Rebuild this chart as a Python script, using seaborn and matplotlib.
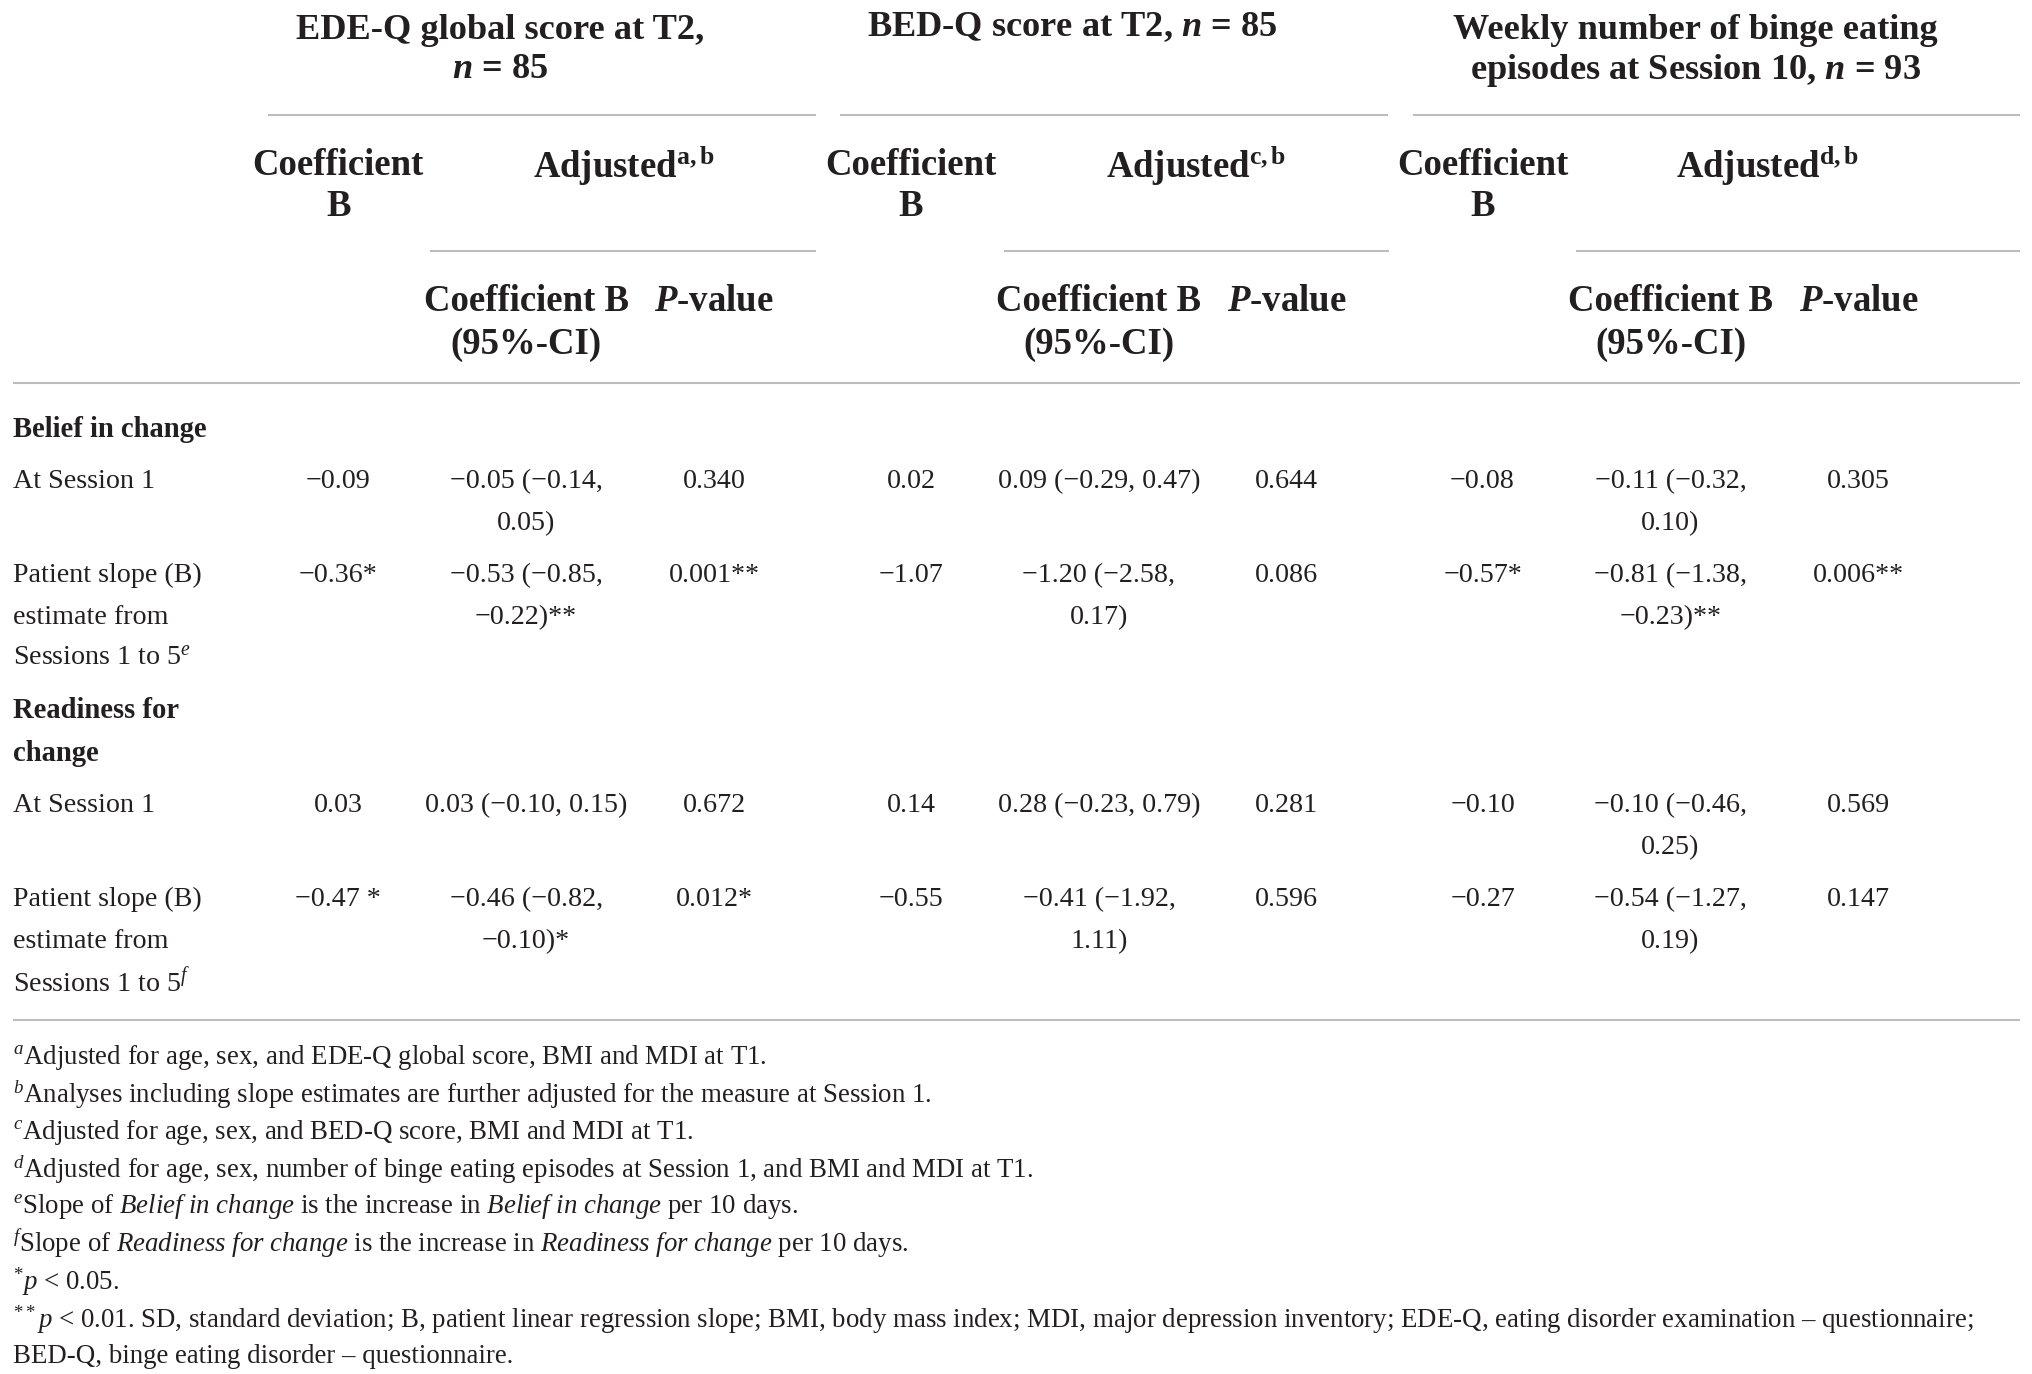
import matplotlib
matplotlib.use("Agg")
import matplotlib.pyplot as plt
import seaborn as sns

# ---------------- data ----------------
outcome_titles = [
    ["EDE-Q global score at T2,", r"$\mathbfit{n}$ = 85"],
    [r"BED-Q score at T2, $\mathbfit{n}$ = 85"],
    ["Weekly number of binge eating", r"episodes at Session 10, $\mathbfit{n}$ = 93"],
]
adjusted_marks = ["a,b", "c,b", "d,b"]

row_labels = [
    ["At Session 1"],
    ["Patient slope (B)", "estimate from", r"Sessions 1 to 5$^{e}$"],
    ["At Session 1"],
    ["Patient slope (B)", "estimate from", r"Sessions 1 to 5$^{f}$"],
]
section_labels = [["Belief in change"], ["Readiness for", "change"]]

coef_b = [
    ["\u22120.09", "\u22120.36*", "0.03", "\u22120.47 *"],
    ["0.02", "\u22121.07", "0.14", "\u22120.55"],
    ["\u22120.08", "\u22120.57*", "\u22120.10", "\u22120.27"],
]
adjusted_ci = [
    [["\u22120.05 (\u22120.14,", "0.05)"], ["\u22120.53 (\u22120.85,", "\u22120.22)**"],
     ["0.03 (\u22120.10, 0.15)"], ["\u22120.46 (\u22120.82,", "\u22120.10)*"]],
    [["0.09 (\u22120.29, 0.47)"], ["\u22121.20 (\u22122.58,", "0.17)"],
     ["0.28 (\u22120.23, 0.79)"], ["\u22120.41 (\u22121.92,", "1.11)"]],
    [["\u22120.11 (\u22120.32,", "0.10)"], ["\u22120.81 (\u22121.38,", "\u22120.23)**"],
     ["\u22120.10 (\u22120.46,", "0.25)"], ["\u22120.54 (\u22121.27,", "0.19)"]],
]
p_values = [
    ["0.340", "0.001**", "0.672", "0.012*"],
    ["0.644", "0.086", "0.281", "0.596"],
    ["0.305", "0.006**", "0.569", "0.147"],
]

footnotes = [
    r"$^{a}$Adjusted for age, sex, and EDE-Q global score, BMI and MDI at T1.",
    r"$^{b}$Analyses including slope estimates are further adjusted for the measure at Session 1.",
    r"$^{c}$Adjusted for age, sex, and BED-Q score, BMI and MDI at T1.",
    r"$^{d}$Adjusted for age, sex, number of binge eating episodes at Session 1, and BMI and MDI at T1.",
    r"$^{e}$Slope of $\mathit{Belief\ in\ change}$ is the increase in $\mathit{Belief\ in\ change}$ per 10 days.",
    r"$^{f}$Slope of $\mathit{Readiness\ for\ change}$ is the increase in $\mathit{Readiness\ for\ change}$ per 10 days.",
    r"$^{*}\mathit{p}$ < 0.05.",
    r"$^{**}\mathit{p}$ < 0.01. SD, standard deviation; B, patient linear regression slope; BMI, body mass index; MDI, major depression inventory; EDE-Q, eating disorder examination "
    + "\u2013 questionnaire;",
    "BED-Q, binge eating disorder \u2013 questionnaire.",
]

# ---------------- style ----------------
sns.set_theme(style="white")
plt.rcParams["font.family"] = ["Liberation Serif", "DejaVu Serif"]
plt.rcParams["mathtext.fontset"] = "custom"
plt.rcParams["mathtext.rm"] = "Liberation Serif"
plt.rcParams["mathtext.it"] = "Liberation Serif:italic"
plt.rcParams["mathtext.bf"] = "Liberation Serif:bold"
try:
    plt.rcParams["mathtext.bfit"] = "Liberation Serif:italic:bold"
except KeyError:
    pass

TXT = "#231f20"
RULE = "#bdbdbd"
FS_HEAD = 26.5
FS_TITLE = 26.2
FS_BODY = 20.2
FS_SECT = 20.6
FS_FOOT = 19.4

fig = plt.figure(figsize=(20.32, 13.74), dpi=100)
ax = fig.add_axes([0, 0, 1, 1])
ax.set_xlim(0, 1568)
ax.set_ylim(1056, 0)
ax.axis("off")


def put(x, y, s, size=FS_BODY, weight="normal", ha="center", style="normal"):
    ax.text(x, y, s, fontsize=size, fontweight=weight, ha=ha, va="center_baseline",
            color=TXT, fontstyle=style)


# layout (positions only)
group_dx = [0, 442, 883]
title_x = [386, 827, 1308]
col_coef, col_ci, col_p = 261, 406, 551
adj_x = 481
tier1 = [(207, 630), (648, 1071), (1090, 1559)]
tier2 = [(332, 630), (775, 1072), (1216, 1559)]

# header titles
for g, lines in enumerate(outcome_titles):
    ys = [20, 50] if len(lines) == 2 else [18]
    for y, s in zip(ys, lines):
        put(title_x[g], y, s, size=FS_TITLE, weight="bold")

for (a, b) in tier1:
    ax.plot([a, b], [88, 88], color=RULE, lw=1.5, solid_capstyle="butt")
for (a, b) in tier2:
    ax.plot([a, b], [193, 193], color=RULE, lw=1.5, solid_capstyle="butt")
ax.plot([10, 1559], [294, 294], color=RULE, lw=1.5, solid_capstyle="butt")
ax.plot([10, 1559], [784, 784], color=RULE, lw=1.5, solid_capstyle="butt")

for g in range(3):
    dx = group_dx[g]
    put(col_coef + dx, 124, "Coefficient", size=FS_HEAD, weight="bold")
    put(col_coef + dx, 156, "B", size=FS_HEAD, weight="bold")
    put(adj_x + dx, 124, "Adjusted$^{\\mathbf{" + adjusted_marks[g] + "}}$", size=FS_HEAD, weight="bold")
    put(col_ci + dx, 229, "Coefficient B", size=FS_HEAD, weight="bold")
    put(col_ci + dx, 262, "(95%-CI)", size=FS_HEAD, weight="bold")
    put(col_p + dx, 229, r"$\mathbfit{P}$-value", size=FS_HEAD, weight="bold")

# body
section_y = [[328], [544, 577]]
row_y = [368, 440, 617, 689]
line_h = 32
for s, ys in zip(section_labels, section_y):
    for y, t in zip(ys, s):
        put(10, y, t, size=FS_SECT, weight="bold", ha="left")

for r, labels in enumerate(row_labels):
    y0 = row_y[r]
    for k, t in enumerate(labels):
        put(10, y0 + k * line_h, t, ha="left")
    for g in range(3):
        dx = group_dx[g]
        put(col_coef + dx, y0, coef_b[g][r])
        for k, t in enumerate(adjusted_ci[g][r]):
            put(col_ci + dx, y0 + k * line_h, t)
        put(col_p + dx, y0, p_values[g][r])

foot_y = [810, 838, 867, 896, 924, 953, 982, 1011, 1040]
for y, t in zip(foot_y, footnotes):
    put(10, y, t, size=FS_FOOT, ha="left")

fig.savefig("out.png", dpi=100, facecolor="white")
